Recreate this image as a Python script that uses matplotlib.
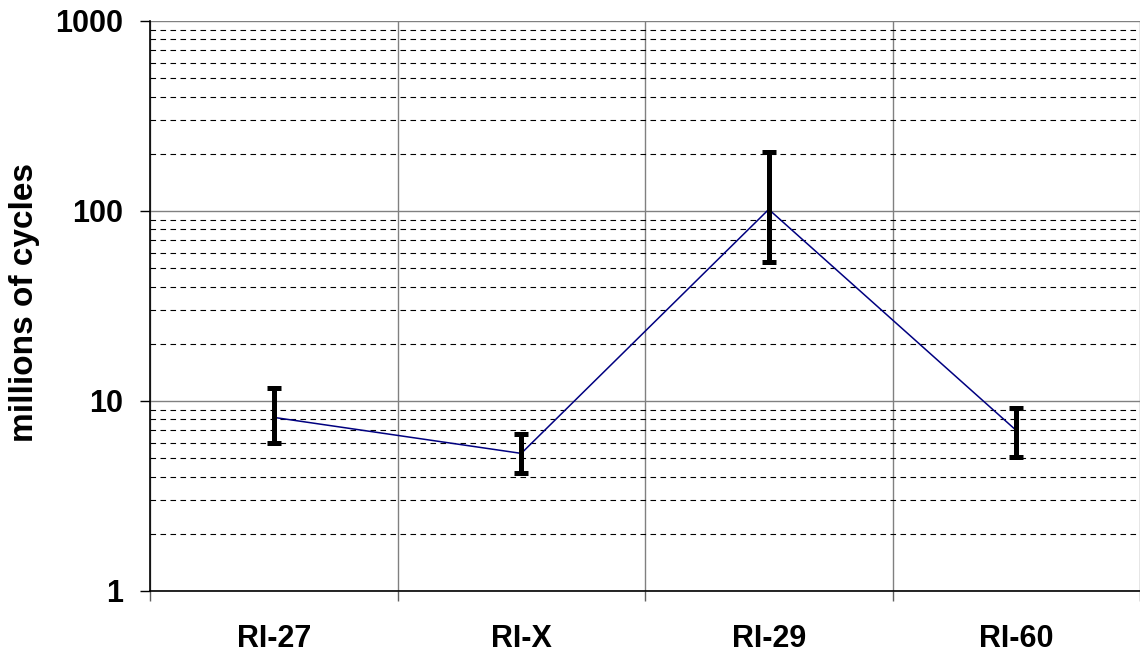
import matplotlib
matplotlib.use("Agg")
import matplotlib.pyplot as plt
from matplotlib.ticker import LogLocator, NullFormatter, FixedLocator, FixedFormatter

plt.rcParams['font.family'] = ['Liberation Sans', 'DejaVu Sans']
plt.rcParams['font.weight'] = 'bold'

# data
samples = ['RI-27', 'RI-X', 'RI-29', 'RI-60']
mean_cycles = [8.2, 5.3, 102, 7.0]
upper = [11.7, 6.7, 205, 9.2]
lower = [6.0, 4.2, 54, 5.1]

fig = plt.figure(figsize=(11.4, 6.58), dpi=100)
ax = fig.add_axes([150 / 1140, 67 / 658, 990 / 1140, 570 / 658])

xpos = [i + 0.5 for i in range(len(samples))]
err_lo = [m - l for m, l in zip(mean_cycles, lower)]
err_hi = [u - m for m, u in zip(mean_cycles, upper)]

ax.plot(xpos, mean_cycles, color='#000080', lw=1.1, zorder=3)
ax.errorbar(xpos, mean_cycles, yerr=[err_lo, err_hi], fmt='none',
            ecolor='black', elinewidth=3.6, capsize=5, capthick=3.6, zorder=4)

ax.set_yscale('log')
ax.set_ylim(1, 1000)
ax.set_xlim(0, len(samples))

# y axis ticks and grids
ax.yaxis.set_major_locator(FixedLocator([1, 10, 100, 1000]))
ax.yaxis.set_major_formatter(FixedFormatter(['1', '10', '100', '1000']))
ax.yaxis.set_minor_locator(LogLocator(base=10, subs=range(2, 10)))
ax.yaxis.set_minor_formatter(NullFormatter())
ax.grid(True, which='major', axis='y', color='#808080', lw=1.0)
ax.grid(True, which='minor', axis='y', color='black', lw=0.8, linestyle=(0, (5, 4)))

# x axis: boundaries as major ticks (with grid), labels at centers
ax.xaxis.set_major_locator(FixedLocator(range(len(samples) + 1)))
ax.xaxis.set_major_formatter(NullFormatter())
ax.xaxis.set_minor_locator(FixedLocator(xpos))
ax.xaxis.set_minor_formatter(FixedFormatter(samples))
ax.grid(True, which='major', axis='x', color='#808080', lw=1.0)

ax.tick_params(axis='y', which='major', length=7, width=1, pad=12, labelsize=22)
ax.tick_params(axis='y', which='minor', length=0)
ax.tick_params(axis='x', which='major', length=7, width=1, color='#606060')
ax.tick_params(axis='x', which='minor', length=0, pad=24, labelsize=22)

for s in ['top', 'right']:
    ax.spines[s].set_visible(False)
ax.spines['left'].set_linewidth(1.2)
ax.spines['bottom'].set_linewidth(1.2)

ax.set_ylabel('millions of cycles', fontsize=24, fontweight='bold')
ax.yaxis.set_label_coords(-110 / 990, 0.507)

fig.savefig('out.png', dpi=100)
